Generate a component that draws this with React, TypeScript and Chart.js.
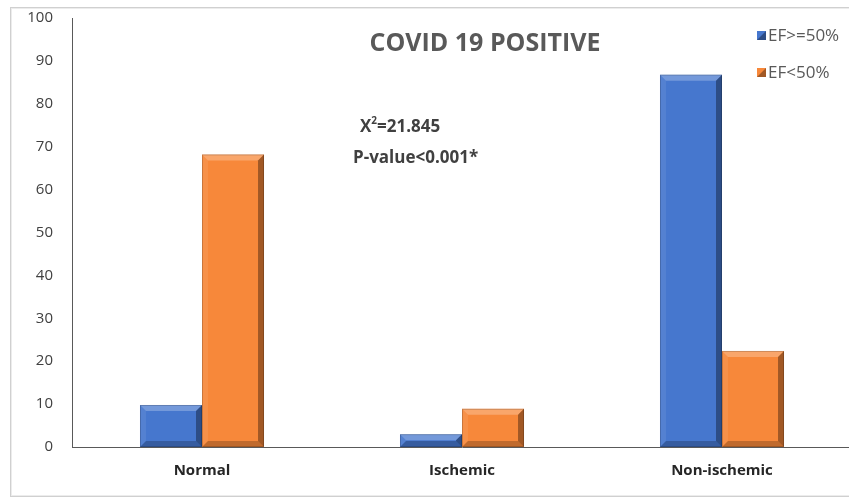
import React, { useEffect, useRef } from "react";
import { Chart, registerables } from "chart.js";

Chart.register(...registerables);

const categories = ["Normal", "Ischemic", "Non-ischemic"];
const efHigh = [9.8, 3.0, 86.8];
const efLow = [68.2, 8.9, 22.4];
const seriesNames = ["EF>=50%", "EF<50%"];
const chartTitle = "COVID 19 POSITIVE";
const statLine1Base = "X";
const statLine1Sup = "2";
const statLine1Rest = "=21.845";
const statLine2 = "P-value<0.001*";

const BLUE = "#4677CE";
const ORANGE = "#F7883A";
const FONT = "'Open Sans', sans-serif";

const bevelPlugin = {
  id: "bevel",
  afterDatasetsDraw(chart: any) {
    const ctx = chart.ctx;
    chart.data.datasets.forEach((_: any, di: number) => {
      const meta = chart.getDatasetMeta(di);
      meta.data.forEach((el: any) => {
        const { x, y, base, width } = el.getProps(["x", "y", "base", "width"], true);
        const l = x - width / 2, r = x + width / 2, t = Math.min(y, base), b = Math.max(y, base);
        const bv = Math.min(6, (b - t) / 2);
        const poly = (pts: number[][], fill: string) => {
          ctx.beginPath();
          ctx.moveTo(pts[0][0], pts[0][1]);
          for (let i = 1; i < pts.length; i++) ctx.lineTo(pts[i][0], pts[i][1]);
          ctx.closePath();
          ctx.fillStyle = fill;
          ctx.fill();
        };
        ctx.save();
        poly([[l, t], [r, t], [r - bv, t + bv], [l + bv, t + bv]], "rgba(255,255,255,0.25)");
        poly([[l, t], [l + bv, t + bv], [l + bv, b - bv], [l, b]], "rgba(255,255,255,0.08)");
        poly([[r, t], [r - bv, t + bv], [r - bv, b - bv], [r, b]], "rgba(0,0,0,0.35)");
        poly([[l, b], [l + bv, b - bv], [r - bv, b - bv], [r, b]], "rgba(0,0,0,0.22)");
        ctx.strokeStyle = "rgba(0,0,0,0.18)";
        ctx.lineWidth = 1;
        ctx.strokeRect(l + 0.5, t + 0.5, width - 1, b - t - 1);
        ctx.restore();
      });
    });
  },
};

const decorPlugin = {
  id: "decor",
  beforeDraw(chart: any) {
    const ctx = chart.ctx;
    ctx.save();
    ctx.fillStyle = "#ffffff";
    ctx.fillRect(0, 0, chart.width, chart.height);
    ctx.strokeStyle = "#d0d0d0";
    ctx.lineWidth = 1;
    ctx.strokeRect(10.5, 7.5, 900, 489);
    ctx.strokeStyle = "#ececec";
    ctx.strokeRect(11.5, 8.5, 900, 487);
    ctx.restore();
  },
  afterDraw(chart: any) {
    const ctx = chart.ctx;
    ctx.save();
    // title
    ctx.fillStyle = "#595959";
    ctx.font = `bold 25px ${FONT}`;
    ctx.textAlign = "center";
    ctx.textBaseline = "middle";
    ctx.fillText(chartTitle, 485, 44);
    // legend
    const colors = [BLUE, ORANGE];
    const ys = [35, 72];
    ctx.font = `17px ${FONT}`;
    ctx.textAlign = "left";
    seriesNames.forEach((n, i) => {
      ctx.fillStyle = colors[i];
      ctx.fillRect(757, ys[i] - 4, 9, 9);
      ctx.fillStyle = "rgba(0,0,0,0.35)";
      ctx.beginPath();
      ctx.moveTo(766, ys[i] - 4);
      ctx.lineTo(766, ys[i] + 5);
      ctx.lineTo(757, ys[i] + 5);
      ctx.closePath();
      ctx.fill();
      ctx.fillStyle = "#595959";
      ctx.fillText(n, 768, ys[i] + 1);
    });
    // stats annotation
    ctx.fillStyle = "#404040";
    ctx.font = `bold 17px ${FONT}`;
    let x0 = 360;
    ctx.fillText(statLine1Base, x0, 127);
    x0 += ctx.measureText(statLine1Base).width;
    ctx.font = `bold 10px ${FONT}`;
    ctx.fillText(statLine1Sup, x0, 121);
    x0 += ctx.measureText(statLine1Sup).width;
    ctx.font = `bold 17px ${FONT}`;
    ctx.fillText(statLine1Rest, x0, 127);
    ctx.fillText(statLine2, 353, 158);
    ctx.restore();
  },
};

export default function App() {
  const ref = useRef<HTMLCanvasElement | null>(null);
  useEffect(() => {
    if (!ref.current) return;
    const chart = new Chart(ref.current, {
      type: "bar",
      data: {
        labels: categories,
        datasets: [
          { label: seriesNames[0], data: efHigh, backgroundColor: BLUE, borderWidth: 0 },
          { label: seriesNames[1], data: efLow, backgroundColor: ORANGE, borderWidth: 0 },
        ],
      },
      options: {
        animation: false,
        responsive: false,
        maintainAspectRatio: false,
        devicePixelRatio: 1,
        layout: { padding: { left: 0, right: 18, top: 18, bottom: 0 } },
        datasets: { bar: { categoryPercentage: 0.477, barPercentage: 1 } } as any,
        plugins: { legend: { display: false }, title: { display: false }, tooltip: { enabled: false } },
        scales: {
          x: {
            grid: { display: false, drawTicks: false },
            border: { display: true, color: "#595959", width: 1 },
            ticks: { color: "#262626", font: { family: FONT, size: 15, weight: "bold" }, padding: 15 },
            afterFit: (s: any) => { s.height = 52; s.paddingLeft = 0; s.paddingRight = 0; },
          },
          y: {
            min: 0,
            max: 100,
            grid: { display: false, drawTicks: false },
            border: { display: true, color: "#595959", width: 1 },
            ticks: { stepSize: 10, color: "#404040", font: { family: FONT, size: 15 }, padding: 19 },
            afterFit: (s: any) => { s.width = 72; s.paddingTop = 0; s.paddingBottom = 0; },
          },
        },
      },
      plugins: [decorPlugin, bevelPlugin],
    });
    return () => chart.destroy();
  }, []);
  return (
    <div style={{ position: "fixed", left: 0, top: 0, width: 849, height: 499, overflow: "hidden", background: "#fff" }}>
      <canvas ref={ref} width={870} height={499} style={{ display: "block", width: 870, height: 499 }} />
    </div>
  );
}
